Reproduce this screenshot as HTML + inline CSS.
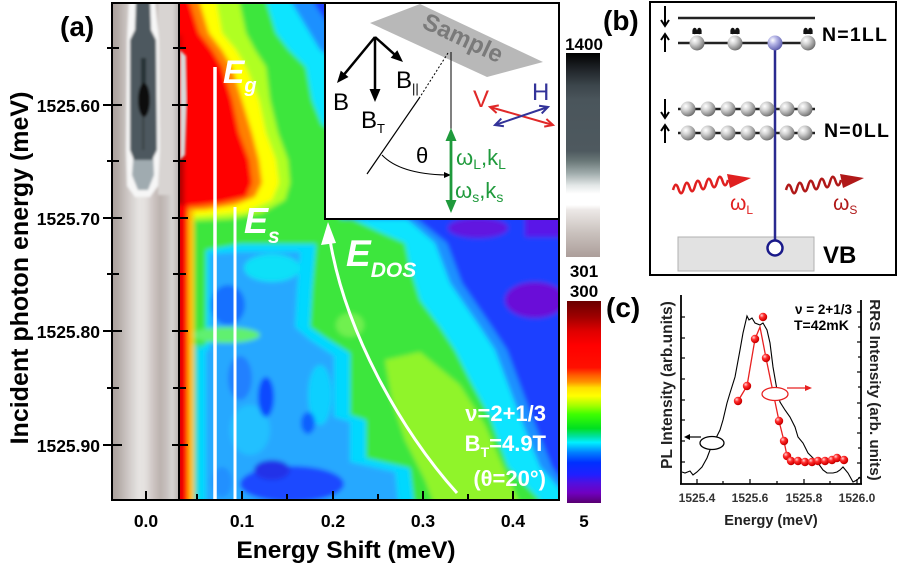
<!DOCTYPE html>
<html><head><meta charset="utf-8"><style>
html,body{margin:0;padding:0;background:#fff;}
svg{display:block;font-family:"Liberation Sans",Arial,sans-serif;}
</style></head><body>
<svg width="900" height="566" viewBox="0 0 900 566" xmlns="http://www.w3.org/2000/svg">
<defs>
  <clipPath id="cm"><rect x="180" y="4" width="378" height="495"/></clipPath>
  <clipPath id="cg"><rect x="113" y="4" width="66" height="495"/></clipPath>
  <filter id="bl" x="-10%" y="-10%" width="120%" height="120%"><feGaussianBlur stdDeviation="2.5"/></filter>
  <filter id="bl2" x="-10%" y="-10%" width="120%" height="120%"><feGaussianBlur stdDeviation="1.3"/></filter>
  <linearGradient id="gstrip" x1="112" y1="0" x2="179" y2="0" gradientUnits="userSpaceOnUse">
    <stop offset="0" stop-color="#a89e9a"/><stop offset="0.12" stop-color="#b8b0ac"/>
    <stop offset="0.25" stop-color="#d0cac8"/><stop offset="0.4" stop-color="#e6e4e2"/>
    <stop offset="0.5" stop-color="#e4e0de"/><stop offset="0.6" stop-color="#d0c8c6"/>
    <stop offset="0.72" stop-color="#bcb2ae"/><stop offset="0.82" stop-color="#c8c2c0"/>
    <stop offset="0.9" stop-color="#d8d6d4"/><stop offset="1" stop-color="#b8b2b0"/>
  </linearGradient>
  <linearGradient id="cbg" x1="0" y1="0" x2="0" y2="1">
    <stop offset="0" stop-color="#000000"/><stop offset="0.07" stop-color="#1c2024"/>
    <stop offset="0.16" stop-color="#3c464c"/><stop offset="0.23" stop-color="#4a555b"/>
    <stop offset="0.48" stop-color="#4e595f"/><stop offset="0.53" stop-color="#6a7878"/>
    <stop offset="0.59" stop-color="#a0acac"/><stop offset="0.65" stop-color="#e4e8e8"/>
    <stop offset="0.69" stop-color="#ffffff"/><stop offset="0.745" stop-color="#ffffff"/>
    <stop offset="0.77" stop-color="#ece8e6"/><stop offset="0.88" stop-color="#cac2be"/>
    <stop offset="1" stop-color="#ac9e9a"/>
  </linearGradient>
  <linearGradient id="cbc" x1="0" y1="0" x2="0" y2="1">
    <stop offset="0" stop-color="#6a0000"/><stop offset="0.08" stop-color="#a00000"/>
    <stop offset="0.15" stop-color="#e00000"/><stop offset="0.22" stop-color="#ff0000"/>
    <stop offset="0.33" stop-color="#ff1000"/><stop offset="0.37" stop-color="#ff6000"/>
    <stop offset="0.40" stop-color="#ff9000"/><stop offset="0.43" stop-color="#ffe000"/>
    <stop offset="0.47" stop-color="#ffff00"/><stop offset="0.52" stop-color="#a0ff00"/>
    <stop offset="0.56" stop-color="#40ff00"/><stop offset="0.63" stop-color="#00e020"/>
    <stop offset="0.67" stop-color="#00e0a0"/><stop offset="0.70" stop-color="#00f0ff"/>
    <stop offset="0.75" stop-color="#0080ff"/><stop offset="0.80" stop-color="#0030ff"/>
    <stop offset="0.86" stop-color="#2020ff"/><stop offset="0.90" stop-color="#5010e0"/>
    <stop offset="0.95" stop-color="#7000c0"/><stop offset="1" stop-color="#580070"/>
  </linearGradient>
  <radialGradient id="gb" cx="0.35" cy="0.32" r="0.75">
    <stop offset="0" stop-color="#ffffff"/><stop offset="0.35" stop-color="#d4d4d4"/>
    <stop offset="0.8" stop-color="#8a8a8a"/><stop offset="1" stop-color="#5e5e5e"/>
  </radialGradient>
  <radialGradient id="gl" cx="0.35" cy="0.32" r="0.75">
    <stop offset="0" stop-color="#ffffff"/><stop offset="0.35" stop-color="#b8b8e8"/>
    <stop offset="0.8" stop-color="#7474bc"/><stop offset="1" stop-color="#5050a0"/>
  </radialGradient>
  <radialGradient id="gr" cx="0.35" cy="0.32" r="0.75">
    <stop offset="0" stop-color="#ffd8d8"/><stop offset="0.35" stop-color="#ff3030"/>
    <stop offset="0.8" stop-color="#d80000"/><stop offset="1" stop-color="#a00000"/>
  </radialGradient>
</defs>
<rect width="900" height="566" fill="#fff"/>

<!-- ============ PANEL (a) ============ -->
<g clip-path="url(#cg)">
 <g filter="url(#bl2)">
  <rect x="105" y="0" width="80" height="510" fill="url(#gstrip)"/>
  <rect x="158" y="0" width="15" height="195" fill="#d8d4d2"/>
  <path d="M129,0 L155,0 L159,40 L160,150 L158,186 L150,197 L135,197 L127,186 L126,150 L127,40 Z" fill="#f6f6f6"/>
  <path d="M134,150 L153,150 L154,175 L148,190 L138,190 L132,175 Z" fill="#a0abb0"/>
  <path d="M136,0 L150,0 L151,30 L156,40 L157,150 L152,160 L134,160 L130,150 L130,40 L135,30 Z" fill="#4e585e"/>
  <rect x="141" y="58" width="5" height="30" fill="#283036"/>
  <rect x="142" y="117" width="2.5" height="33" fill="#3a444a"/>
  <ellipse cx="144" cy="100" rx="6" ry="17" fill="#080808"/>
 </g>
</g>

<g clip-path="url(#cm)">
 <g filter="url(#bl)">
  <rect x="170" y="0" width="400" height="520" fill="#1a40ff"/>
  <ellipse cx="478" cy="228" rx="30" ry="10" fill="#6212e0"/>
  <ellipse cx="535" cy="300" rx="30" ry="18" fill="#6a10d8"/>
  <rect x="525" y="215" width="40" height="22" fill="#5a18e8"/>
  <ellipse cx="320" cy="495" rx="25" ry="8" fill="#3a1ee0"/>
  <polygon fill="#1a90ff" points="170,0 312,0 325,20 345,35 345,219 417,219 447,243 462,283 492,327 507,350 532,417 552,467 575,500 575,520 170,520"/>
  <polygon fill="#08e4ff" points="170,0 290,0 305,25 320,50 335,60 340,219 407,219 435,243 450,283 480,327 495,350 520,417 540,467 570,500 570,520 170,520"/>
  <polygon fill="#3ce63c" points="170,0 266,0 276,33 289,50 306,67 312,100 322,125 335,130 340,219 352,219 380,232 405,243 410,267 420,300 440,327 455,350 470,380 490,417 508,467 540,500 540,520 170,520"/>
  <rect x="190" y="345" width="20" height="175" fill="#22dcc0"/>
  <polygon fill="#00d8ff" points="206,250 240,244 316,244 312,290 310,327 326,338 350,353 350,415 366,420 366,458 410,468 416,520 198,520 198,350 206,345"/>
  <polygon fill="#28a8ff" points="210,254 240,252 300,252 297,290 295,327 310,340 334,356 334,417 350,422 350,462 395,472 400,520 206,520 206,352 210,348"/>
  <ellipse cx="272" cy="268" rx="28" ry="14" fill="#10e0f8"/>
  <ellipse cx="320" cy="395" rx="12" ry="30" fill="#10d0ff"/>
  <ellipse cx="250" cy="430" rx="20" ry="25" fill="#20c0ff"/>
  <ellipse cx="228" cy="305" rx="17" ry="20" fill="#1870ff"/>
  <ellipse cx="266" cy="397" rx="8" ry="20" fill="#0a48ff"/>
  <ellipse cx="308" cy="423" rx="7" ry="11" fill="#1060ff"/>
  <ellipse cx="240" cy="378" rx="12" ry="22" fill="#2080ff"/>
  <ellipse cx="292" cy="484" rx="52" ry="18" fill="#1a48ff"/>
  <ellipse cx="272" cy="470" rx="18" ry="10" fill="#2030e8"/>
  <ellipse cx="222" cy="482" rx="10" ry="15" fill="#2090ff"/>
  <ellipse cx="226" cy="335" rx="34" ry="8" fill="#60f070"/>
  <polygon fill="#90f42c" points="385,360 420,352 460,385 485,425 500,460 518,500 520,520 440,520 425,480 405,440 392,400"/>
  <ellipse cx="350" cy="325" rx="14" ry="12" fill="#70f050"/>
  <polygon fill="#b0ff20" points="170,0 239,0 246,33 255,50 266,67 270,100 278,133 288,160 290,183 285,200 262,213 230,219 170,222"/>
  <polygon fill="#ffff00" points="170,0 216,0 222,33 236,50 246,67 259,100 266,133 276,160 279,183 272,200 245,212 200,216 170,217"/>
  <polygon fill="#ff8000" points="170,0 199,0 209,33 222,50 232,67 242,100 252,133 259,160 262,183 255,197 235,205 205,210 170,211"/>
  <polygon fill="#ff0000" points="170,0 189,0 199,33 212,50 222,67 232,100 239,133 249,160 252,183 246,197 220,203 195,206 170,207"/>
  <rect x="170" y="35" width="12" height="65" fill="#d00000"/>
  <rect x="170" y="100" width="14" height="105" fill="#b00000"/>
  <rect x="186" y="210" width="8" height="310" fill="#ffc000"/>
  <rect x="170" y="205" width="18" height="315" fill="#ff0000"/>
  <rect x="170" y="218" width="12" height="302" fill="#d80000"/>
 </g>
 <path d="M180,50 L186,56 L187,100 L185,155 L180,160 Z" fill="#d8d8d8" filter="url(#bl2)"/>
</g>

<!-- inset -->
<rect x="325" y="3" width="234" height="216" fill="#fff"/>
<line x1="325" y1="3" x2="325" y2="220" stroke="#000" stroke-width="2"/>
<line x1="324" y1="219" x2="559" y2="219" stroke="#000" stroke-width="2"/>
<polygon points="370,23 420,4 543,62 487,77" fill="#b8b8b8"/>
<text x="0" y="8" text-anchor="middle" font-size="24" font-weight="bold" fill="#7a7a7a" transform="translate(463,38) rotate(25)">Sample</text>
<g stroke="#000" stroke-width="2.5" fill="none">
 <line x1="375" y1="37" x2="343.4" y2="75.3"/>
 <line x1="375" y1="37" x2="375" y2="92"/>
 <line x1="375" y1="37" x2="395.5" y2="55.3"/>
</g>
<g fill="#000">
 <polygon points="337,83 348.5,77 340.8,70.6"/>
 <polygon points="375,102 369.5,89 380.5,89"/>
 <polygon points="403,62 390.7,57.7 397.3,50.3"/>
</g>
<text x="333" y="110" font-size="24" fill="#000">B</text>
<text x="361" y="128" font-size="24" fill="#000">B<tspan font-size="13" dy="5">T</tspan></text>
<text x="396" y="88" font-size="24" fill="#000">B<tspan font-size="13" dy="5">||</tspan></text>
<line x1="451" y1="52" x2="451" y2="130" stroke="#000" stroke-width="1"/>
<line x1="448" y1="53" x2="420" y2="97" stroke="#000" stroke-width="1" stroke-dasharray="2,2"/>
<line x1="420" y1="97" x2="367" y2="174" stroke="#000" stroke-width="1.2"/>
<path d="M382,155 Q400,174 446,175" stroke="#000" stroke-width="1" fill="none"/>
<polygon points="444,172 451,175 444,178" fill="#000"/>
<text x="416" y="163" font-size="22" fill="#000">θ</text>
<line x1="451" y1="138" x2="451" y2="203" stroke="#1f9a3c" stroke-width="2.8"/>
<polygon points="451,128 445.5,141 456.5,141" fill="#1f9a3c"/>
<polygon points="451,213 445.5,200 456.5,200" fill="#1f9a3c"/>
<text x="456" y="165" font-size="22" fill="#1f9a3c">ω<tspan font-size="14" dy="4">L</tspan><tspan dy="-4">,k</tspan><tspan font-size="14" dy="4">L</tspan></text>
<text x="455" y="198" font-size="22" fill="#1f9a3c">ω<tspan font-size="14" dy="4">s</tspan><tspan dy="-4">,k</tspan><tspan font-size="14" dy="4">s</tspan></text>
<text x="473" y="107" font-size="24" fill="#e02828">V</text>
<text x="532" y="100" font-size="24" fill="#333399">H</text>
<g stroke="#e02828" stroke-width="2" fill="none">
 <line x1="490" y1="107" x2="553" y2="125"/>
 <polyline points="544.2,126.6 553,125 546.4,119"/>
 <polyline points="496.6,113 490,107 498.8,105.4"/>
</g>
<g stroke="#333399" stroke-width="2" fill="none">
 <line x1="495" y1="125" x2="548" y2="107"/>
 <polyline points="541.7,113.4 548,107 539.1,105.8"/>
 <polyline points="503.9,126.2 495,125 501.3,118.6"/>
</g>

<line x1="215" y1="67" x2="215" y2="503" stroke="#fff" stroke-width="3.5"/>
<line x1="235" y1="207" x2="235" y2="500" stroke="#fff" stroke-width="3"/>
<text x="223" y="83" font-size="32" font-weight="bold" font-style="italic" fill="#fff">E<tspan font-size="20" dy="9">g</tspan></text>
<text x="244" y="233" font-size="36" font-weight="bold" font-style="italic" fill="#fff">E<tspan font-size="21" dy="10">s</tspan></text>
<text x="346" y="266" font-size="37" font-weight="bold" font-style="italic" fill="#fff">E<tspan font-size="21" dy="11">DOS</tspan></text>
<path d="M457,493 C400,430 345,330 330,240" stroke="#fff" stroke-width="3" fill="none"/>
<polygon points="328,222 321,245 336,243" fill="#fff"/>
<g font-size="22" font-weight="bold" fill="#fff" text-anchor="end">
 <text x="546" y="421">ν=2+1/3</text>
 <text x="546" y="451">B<tspan font-size="14" dy="6">T</tspan><tspan dy="-6">=4.9T</tspan></text>
 <text x="546" y="486">(θ=20°)</text>
</g>

<rect x="112" y="3" width="447" height="497" fill="none" stroke="#000" stroke-width="2"/>
<line x1="179" y1="3" x2="179" y2="500" stroke="#000" stroke-width="2"/>
<g stroke="#000" stroke-width="2">
 <line x1="103" y1="105" x2="122" y2="105"/><line x1="103" y1="218" x2="122" y2="218"/>
 <line x1="103" y1="331" x2="122" y2="331"/><line x1="103" y1="445" x2="122" y2="445"/>
 <line x1="107" y1="48" x2="119" y2="48"/><line x1="107" y1="161" x2="119" y2="161"/>
 <line x1="107" y1="274" x2="119" y2="274"/><line x1="107" y1="388" x2="119" y2="388"/>
 <line x1="172" y1="105" x2="188" y2="105"/><line x1="172" y1="218" x2="188" y2="218"/>
 <line x1="172" y1="331" x2="188" y2="331"/><line x1="172" y1="445" x2="188" y2="445"/>
 <line x1="173" y1="48" x2="186" y2="48"/><line x1="173" y1="161" x2="186" y2="161"/>
 <line x1="173" y1="274" x2="186" y2="274"/><line x1="173" y1="388" x2="186" y2="388"/>
 <line x1="146" y1="491" x2="146" y2="500"/><line x1="242" y1="491" x2="242" y2="500"/>
 <line x1="333" y1="491" x2="333" y2="500"/><line x1="423" y1="491" x2="423" y2="500"/>
 <line x1="513" y1="491" x2="513" y2="500"/>
 <line x1="197" y1="494" x2="197" y2="500"/><line x1="287" y1="494" x2="287" y2="500"/>
 <line x1="378" y1="494" x2="378" y2="500"/><line x1="468" y1="494" x2="468" y2="500"/>
</g>
<g font-size="17.5" font-weight="bold" fill="#000" text-anchor="end">
 <text x="100" y="112">1525.60</text><text x="100" y="225">1525.70</text>
 <text x="100" y="338">1525.80</text><text x="100" y="452">1525.90</text>
</g>
<g font-size="17.5" font-weight="bold" fill="#000" text-anchor="middle">
 <text x="146" y="527">0.0</text><text x="242" y="527">0.1</text><text x="333" y="527">0.2</text>
 <text x="423" y="527">0.3</text><text x="513" y="527">0.4</text>
</g>
<text x="346" y="558" text-anchor="middle" font-size="24.5" font-weight="bold">Energy Shift (meV)</text>
<text transform="translate(28,268) rotate(-90)" text-anchor="middle" font-size="25" font-weight="bold">Incident photon energy (meV)</text>
<text x="60" y="36" font-size="28" font-weight="bold">(a)</text>

<rect x="566" y="53" width="34" height="204" fill="url(#cbg)"/>
<rect x="567" y="301" width="34" height="202" fill="url(#cbc)"/>
<g font-size="17" font-weight="bold" text-anchor="middle" fill="#000">
 <text x="584" y="50">1400</text><text x="584" y="277">301</text>
 <text x="584" y="297">300</text><text x="584" y="527">5</text>
</g>

<!-- ============ PANEL (b) ============ -->
<text x="603" y="30" font-size="28" font-weight="bold">(b)</text>
<rect x="650" y="2" width="246" height="273" fill="none" stroke="#000" stroke-width="2"/>
<g stroke="#000" stroke-width="2" fill="none">
 <line x1="665" y1="6" x2="665" y2="26"/><polyline points="661,20 665,26 669,20"/>
 <line x1="665" y1="52" x2="665" y2="34"/><polyline points="661,40 665,34 669,40"/>
 <line x1="665" y1="99" x2="665" y2="118"/><polyline points="661,112 665,118 669,112"/>
 <line x1="665" y1="143" x2="665" y2="125"/><polyline points="661,131 665,125 669,131"/>
</g>
<g stroke="#222" stroke-width="2.5">
 <line x1="678" y1="18" x2="815" y2="18"/>
 <line x1="678" y1="43" x2="815" y2="43"/>
 <line x1="678" y1="109" x2="815" y2="109"/>
 <line x1="678" y1="133" x2="815" y2="133"/>
</g>
<rect x="678" y="237" width="136" height="34" fill="#e2e2e2" stroke="#b0b0b0" stroke-width="1"/>
<line x1="775" y1="43" x2="775" y2="240" stroke="#2a2a90" stroke-width="2.5"/>
<circle cx="775" cy="248" r="7.5" fill="#fff" stroke="#1a1a8a" stroke-width="2.5"/>
<g fill="url(#gb)">
 <circle cx="697" cy="43" r="7.5"/><circle cx="735" cy="43" r="7.5"/><circle cx="808" cy="43" r="7.5"/>
 <circle cx="688" cy="109" r="7.5"/><circle cx="708" cy="109" r="7.5"/><circle cx="728" cy="109" r="7.5"/>
 <circle cx="748" cy="109" r="7.5"/><circle cx="767" cy="109" r="7.5"/><circle cx="787" cy="109" r="7.5"/>
 <circle cx="805" cy="109" r="7.5"/>
 <circle cx="688" cy="133" r="7.5"/><circle cx="708" cy="133" r="7.5"/><circle cx="728" cy="133" r="7.5"/>
 <circle cx="748" cy="133" r="7.5"/><circle cx="767" cy="133" r="7.5"/><circle cx="787" cy="133" r="7.5"/>
 <circle cx="805" cy="133" r="7.5"/>
</g>
<line x1="775" y1="100" x2="775" y2="142" stroke="#2a2a90" stroke-width="1.5" opacity="0.6"/>
<circle cx="775" cy="43" r="7.5" fill="url(#gl)"/>
<g fill="#111">
 <g transform="translate(697,0)"><ellipse cx="-2.3" cy="31" rx="2.3" ry="3.2"/><ellipse cx="2.3" cy="31" rx="2.3" ry="3.2"/><rect x="-4.6" y="31" width="9.2" height="3"/></g>
 <g transform="translate(735,0)"><ellipse cx="-2.3" cy="31" rx="2.3" ry="3.2"/><ellipse cx="2.3" cy="31" rx="2.3" ry="3.2"/><rect x="-4.6" y="31" width="9.2" height="3"/></g>
 <g transform="translate(808,0)"><ellipse cx="-2.3" cy="31" rx="2.3" ry="3.2"/><ellipse cx="2.3" cy="31" rx="2.3" ry="3.2"/><rect x="-4.6" y="31" width="9.2" height="3"/></g>
</g>
<g font-size="19.5" font-weight="bold" letter-spacing="1.2" fill="#000">
 <text x="822" y="41">N=1LL</text>
 <text x="824" y="137">N=0LL</text>
</g>
<text x="823" y="263" font-size="24" font-weight="bold">VB</text>
<path d="M673,190 q2.75,-10 5.5,-1 t5.5,-1 t5.5,-1 t5.5,-1 t5.5,-1 t5.5,-1 t5.5,-1 t5.5,-1 t5.5,-1 t5.5,-1" stroke="#e02020" stroke-width="2.5" fill="none"/>
<polygon points="727,174 751,178 730,188" fill="#e02020"/>
<path d="M786,190 q2.75,-10 5.5,-1 t5.5,-1 t5.5,-1 t5.5,-1 t5.5,-1 t5.5,-1 t5.5,-1 t5.5,-1 t5.5,-1 t5.5,-1" stroke="#b01818" stroke-width="2.5" fill="none"/>
<polygon points="840,174 864,178 843,188" fill="#b01818"/>
<text x="730" y="210" font-size="21" fill="#e02020">ω<tspan font-size="12" dy="4">L</tspan></text>
<text x="833" y="210" font-size="21" fill="#b01818">ω<tspan font-size="12" dy="4">S</tspan></text>

<!-- ============ PANEL (c) ============ -->
<text x="606" y="317" font-size="28" font-weight="bold">(c)</text>
<g stroke="#000" stroke-width="1.8" fill="none">
 <line x1="681" y1="295" x2="681" y2="484"/>
 <line x1="680" y1="484" x2="862" y2="484"/>
 <line x1="861" y1="300" x2="861" y2="484"/>
</g>
<g stroke="#000" stroke-width="1.2">
 <line x1="681" y1="317" x2="685" y2="317"/><line x1="681" y1="338" x2="685" y2="338"/>
 <line x1="681" y1="358" x2="685" y2="358"/><line x1="681" y1="379" x2="685" y2="379"/>
 <line x1="681" y1="400" x2="685" y2="400"/><line x1="681" y1="420" x2="685" y2="420"/>
 <line x1="681" y1="441" x2="685" y2="441"/><line x1="681" y1="462" x2="685" y2="462"/>
 <line x1="857" y1="312" x2="861" y2="312"/><line x1="858" y1="327" x2="861" y2="327"/>
 <line x1="857" y1="342" x2="861" y2="342"/><line x1="858" y1="357" x2="861" y2="357"/>
 <line x1="857" y1="372" x2="861" y2="372"/><line x1="858" y1="387" x2="861" y2="387"/>
 <line x1="857" y1="403" x2="861" y2="403"/><line x1="858" y1="418" x2="861" y2="418"/>
 <line x1="857" y1="433" x2="861" y2="433"/><line x1="858" y1="448" x2="861" y2="448"/>
 <line x1="857" y1="463" x2="861" y2="463"/><line x1="858" y1="478" x2="861" y2="478"/>
 <line x1="697" y1="479" x2="697" y2="484"/><line x1="723" y1="481" x2="723" y2="484"/>
 <line x1="750" y1="479" x2="750" y2="484"/><line x1="777" y1="481" x2="777" y2="484"/>
 <line x1="804" y1="479" x2="804" y2="484"/><line x1="830" y1="481" x2="830" y2="484"/>
 <line x1="857" y1="479" x2="857" y2="484"/>
</g>
<polyline fill="none" stroke="#000" stroke-width="1.1" points="682,472 685,473 690,471 693,475 697,472 702,467 707,458 710,450 715,440 720,430 723,420 727,403 730,393 735,377 740,350 743,333 747,316 749,320 752,318 755,323 760,325 763,323 767,330 770,343 773,367 777,390 780,402 785,410 790,417 795,427 798,437 803,443 808,453 813,458 818,463 823,470 827,473 833,473 837,472 840,470 843,467 848,473 853,482 857,480 860,477"/>
<polyline fill="none" stroke="#e82020" stroke-width="1.3" points="738,401 747,386 755,339 760,327 766,358 779,421 784,441 787,456 791,461 798,461 805,462 812,462 818,461 825,461 832,460 837,458 844,460"/>
<g fill="url(#gr)">
 <circle cx="738" cy="401" r="4.2"/><circle cx="747" cy="386" r="4.2"/><circle cx="755" cy="339" r="4.2"/>
 <circle cx="763" cy="317" r="4.2"/><circle cx="766" cy="358" r="4.2"/><circle cx="779" cy="421" r="4.2"/>
 <circle cx="784" cy="441" r="4.2"/><circle cx="787" cy="456" r="4.2"/><circle cx="791" cy="461" r="4.2"/>
 <circle cx="798" cy="461" r="4.2"/><circle cx="805" cy="462" r="4.2"/><circle cx="812" cy="462" r="4.2"/>
 <circle cx="818" cy="461" r="4.2"/><circle cx="825" cy="461" r="4.2"/><circle cx="832" cy="460" r="4.2"/>
 <circle cx="837" cy="458" r="4.2"/><circle cx="844" cy="460" r="4.2"/>
</g>
<ellipse cx="712" cy="443" rx="12" ry="6.5" fill="#fff" stroke="#000" stroke-width="1.3"/>
<line x1="701" y1="437" x2="688" y2="437" stroke="#000" stroke-width="1.2"/>
<polygon points="684,437 690,434 690,440" fill="#000"/>
<ellipse cx="775" cy="394" rx="13" ry="6.5" fill="#fff" stroke="#e82020" stroke-width="1.3"/>
<line x1="787" y1="388" x2="808" y2="388" stroke="#e82020" stroke-width="1.2"/>
<polygon points="812,388 805,385 805,391" fill="#e82020"/>
<text x="795" y="314" font-size="13.5" font-weight="bold">ν = 2+1/3</text>
<text x="794" y="330" font-size="14" font-weight="bold">T=42mK</text>
<g font-size="12" font-weight="bold" fill="#333" text-anchor="middle">
 <text x="697" y="502">1525.4</text><text x="750" y="502">1525.6</text>
 <text x="804" y="502">1525.8</text><text x="857" y="502">1526.0</text>
</g>
<text x="771" y="525" text-anchor="middle" font-size="14.5" font-weight="bold" fill="#222">Energy  (meV)</text>
<text transform="translate(672,385) rotate(-90)" text-anchor="middle" font-size="15.5" font-weight="bold" fill="#222">PL Intensity  (arb.units)</text>
<text transform="translate(870,390) rotate(90)" text-anchor="middle" font-size="15.2" font-weight="bold" fill="#222">RRS Intensity (arb. units)</text>
</svg>
</body></html>
